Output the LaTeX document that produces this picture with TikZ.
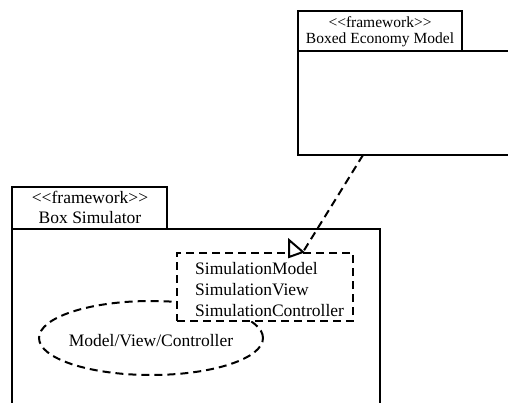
\documentclass[tikz,border=0pt]{standalone}
\usepackage{fontspec}
\setmainfont{Liberation Serif}
\usetikzlibrary{shapes.geometric}
% stereotype brackets kept as plain angle characters
\newcommand{\stereo}[1]{<\kern0pt<#1>\kern0pt>}
\begin{document}
\begin{tikzpicture}[x=1pt,y=-1pt,
  solidline/.style={line width=2.4pt},
  dashline/.style={line width=2pt, dash pattern=on 8pt off 5pt},
  smalltext/.style={font=\fontsize{15.5}{18}\selectfont, inner sep=0pt},
  bodytext/.style={font=\fontsize{17.5}{21}\selectfont, inner sep=0pt}]
\useasboundingbox (0,0) rectangle (508,402);

% Boxed Economy Model package
\draw[solidline] (298,11) rectangle (462,51);
\draw[solidline] (515,51) -- (298,51) -- (298,155) -- (515,155);
\node[smalltext] (bemstereo) at (380,22) {\stereo{framework}};
\node[smalltext] (bemname) at (380,40) {Boxed Economy Model};
\coordinate (bemdep) at (363,155);

% Box Simulator package
\draw[solidline] (12,187) rectangle (167,229);
\draw[solidline] (12,410) -- (12,229) -- (380,229) -- (380,410);
\node[bodytext] (bsstereo) at (90,197) {\stereo{framework}};
\node[bodytext] (bsname) at (90,218) {Box Simulator};

% Model/View/Controller collaboration
\node[draw, dashline, ellipse, minimum width=224pt, minimum height=74pt,
      inner sep=0pt] (mvc) at (151,338) {};
\node[bodytext] (mvctext) at (151,341) {Model/View/Controller};

% Simulation classes
\node[draw, dashline, fill=white, minimum width=176pt, minimum height=68pt,
      inner sep=0pt] (sim) at (265,287) {};
\node[bodytext, align=left, anchor=west] (simtext) at (195,290)
  {SimulationModel\\SimulationView\\SimulationController};

% dependency arrow with hollow head
\coordinate (tip) at (303,252);
\draw[dashline] (bemdep) -- (tip);
\draw[line width=2pt, fill=white, line join=miter] (289,240) -- (tip) -- (289,257) -- cycle;
\end{tikzpicture}
\end{document}
